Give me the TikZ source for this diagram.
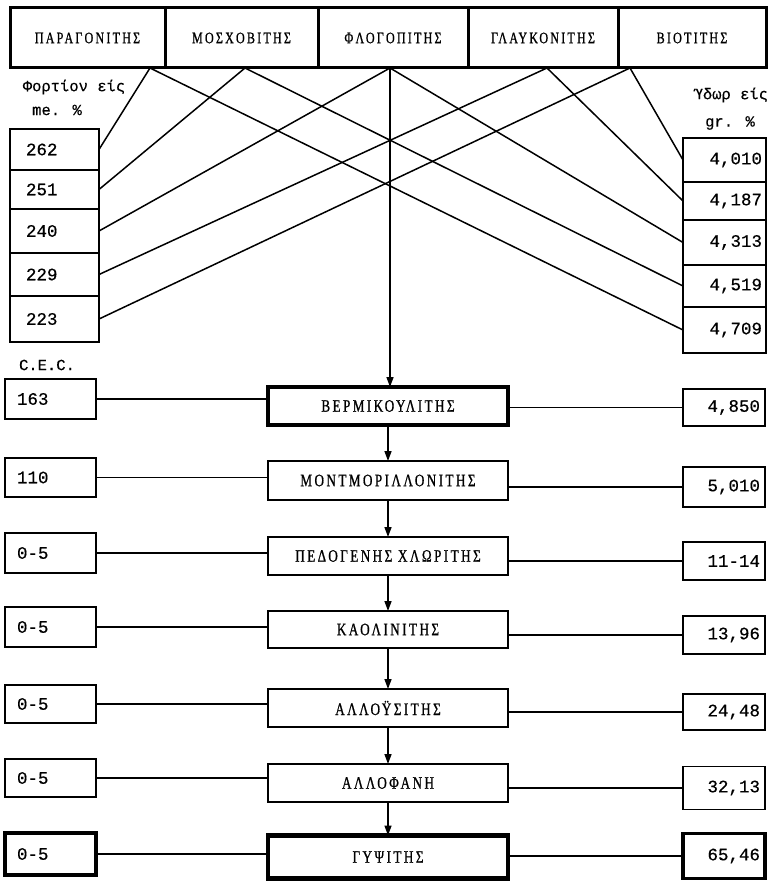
\documentclass[tikz,border=0pt]{standalone}
\usepackage{fontspec}
\setmainfont{Liberation Serif}
\newfontfamily\labfont[FakeStretch=0.75,LetterSpace=14,FakeBold=0.8]{Liberation Serif}
\newfontfamily\tyfont[FakeBold=0.4]{Liberation Mono}
\usetikzlibrary{arrows.meta,calc}
\begin{document}
\begin{tikzpicture}[x=1pt,y=-1pt,
  every node/.style={inner sep=0pt, outer sep=0pt},
  topbox/.style={draw, line width=3pt, minimum height=60pt, font=\labfont\fontsize{16}{16}\selectfont},
  midbox/.style={draw, line width=1.8pt, minimum width=240pt, font=\labfont\fontsize{17.5}{18}\selectfont},
  thickb/.style={line width=4.5pt},
  numbox/.style={draw, line width=1.8pt, font=\tyfont\fontsize{17.5}{17.5}\selectfont},
  lbox/.style={numbox, minimum width=89pt, text width=57pt, align=left},
  rbox/.style={numbox, minimum width=83pt, text width=75pt, align=right},
  llbox/.style={numbox, minimum width=91pt, text width=67pt, align=left},
  rrbox/.style={numbox, minimum width=82pt, text width=72pt, align=right},
  conn/.style={line width=1.5pt},
  arr/.style={line width=1.5pt, -{Triangle[length=10pt,width=7pt]}},
  hdr/.style={font=\tyfont\fontsize{15.5}{16}\selectfont}
]
\fill[white] (0,0) rectangle (769,885);
\useasboundingbox (0,0) rectangle (769,885);

% top row
\node[topbox, minimum width=155pt] (par) at (87.5,38) {ΠΑΡΑΓΟΝΙΤΗΣ};
\node[topbox, minimum width=153pt] (mos) at (241.5,38) {ΜΟΣΧΟΒΙΤΗΣ};
\node[topbox, minimum width=150pt] (flo) at (393,38) {ΦΛΟΓΟΠΙΤΗΣ};
\node[topbox, minimum width=150pt] (gla) at (543,38) {ΓΛΑΥΚΟΝΙΤΗΣ};
\node[topbox, minimum width=148pt] (bio) at (692,38) {ΒΙΟΤΙΤΗΣ};

\coordinate (parB) at (150,68);
\coordinate (mosB) at (245,68);
\coordinate (floB) at (390,68);
\coordinate (glaB) at (547,68);
\coordinate (bioB) at (630,68);

% headers
\node[hdr] (hl1) at (74,87) {Φορτίον είς};
\node[hdr] (hl2) at (57,110) {me. \%};
\node[hdr, anchor=east] (hr1) at (768,95) {Ύδωρ είς};
\node[hdr] (hr2) at (730,123) {gr. \%};
\node[hdr] (cec) at (47,365) {C.E.C.};

% left column
\node[lbox, minimum height=41pt] (l262) at (54.5,149.5) {262};
\node[lbox, minimum height=39pt] (l251) at (54.5,189.5) {251};
\node[lbox, minimum height=44pt] (l240) at (54.5,231) {240};
\node[lbox, minimum height=43pt] (l229) at (54.5,274.5) {229};
\node[lbox, minimum height=46pt] (l223) at (54.5,319) {223};

% right column
\node[rbox, minimum height=44pt] (r4010) at (724.5,160) {4,010};
\node[rbox, minimum height=38pt] (r4187) at (724.5,201) {4,187};
\node[rbox, minimum height=45pt] (r4313) at (724.5,242.5) {4,313};
\node[rbox, minimum height=42pt] (r4519) at (724.5,286) {4,519};
\node[rbox, minimum height=46pt] (r4709) at (724.5,330) {4,709};

% diagonal connectors
\draw[conn] (parB) -- (l262.east);
\draw[conn] (parB) -- (r4709.west);
\draw[conn] (mosB) -- (l251.east);
\draw[conn] (mosB) -- (r4519.west);
\draw[conn] (floB) -- (l240.east);
\draw[conn] (floB) -- (r4313.west);
\draw[conn] (glaB) -- (l229.east);
\draw[conn] (glaB) -- (r4187.west);
\draw[conn] (bioB) -- (l223.east);
\draw[conn] (bioB) -- (r4010.west);

% centre column
\node[midbox, thickb, minimum height=38pt] (ver) at (388,406) {ΒΕΡΜΙΚΟΥΛΙΤΗΣ};
\node[midbox, minimum height=39pt] (mon) at (388,480.5) {ΜΟΝΤΜΟΡΙΛΛΟΝΙΤΗΣ};
\node[midbox, minimum height=38pt] (ped) at (388,556) {ΠΕΔΟΓΕΝΗΣ ΧΛΩΡΙΤΗΣ};
\node[midbox, minimum height=37pt] (kao) at (388,629.5) {ΚΑΟΛΙΝΙΤΗΣ};
\node[midbox, minimum height=38pt] (alh) at (388,708) {ΑΛΛΟΫΣΙΤΗΣ};
\node[midbox, minimum height=38pt] (alf) at (388,783) {ΑΛΛΟΦΑΝΗ};
\node[midbox, thickb, minimum height=43pt] (gyp) at (388,857) {ΓΥΨΙΤΗΣ};

% lower left
\node[llbox, line width=2.3pt, minimum height=40pt] (c163) at (50.5,399) {163};
\node[llbox, line width=2.3pt, minimum height=39pt] (c110) at (50.5,477.5) {110};
\node[llbox, minimum height=40pt] (c5a) at (50.5,553) {0-5};
\node[llbox, minimum height=40pt] (c5b) at (50.5,627) {0-5};
\node[llbox, minimum height=38pt] (c5c) at (50.5,704) {0-5};
\node[llbox, minimum height=38pt] (c5d) at (50.5,778) {0-5};
\node[llbox, line width=3.8pt, minimum height=42pt] (c5e) at (50.5,854) {0-5};

% lower right
\node[rrbox, line width=2.8pt, minimum height=37pt] (w4850) at (724,407.5) {4,850};
\node[rrbox, minimum height=40pt] (w5010) at (724,487) {5,010};
\node[rrbox, minimum height=38pt] (w1114) at (724,561) {11-14};
\node[rrbox, minimum height=38pt] (w1396) at (724,635) {13,96};
\node[rrbox, minimum height=36pt] (w2448) at (724,712) {24,48};
\node[rrbox, minimum height=43pt] (w3213) at (724,788) {32,13};
\node[rrbox, line width=3.8pt, minimum height=45pt] (w6546) at (724,856) {65,46};

% horizontal connectors
\foreach \a/\b/\c in {c163/ver/w4850, c110/mon/w5010, c5a/ped/w1114, c5b/kao/w1396, c5c/alh/w2448, c5d/alf/w3213, c5e/gyp/w6546}{
  \draw[conn] (\a.east) -- (\a.east -| \b.west);
  \draw[conn] (\c.west -| \b.east) -- (\c.west);
}

% vertical arrows
\draw[arr] (floB) -- (floB |- ver.north);
\draw[arr] (ver.south) -- (mon.north);
\draw[arr] (mon.south) -- (ped.north);
\draw[arr] (ped.south) -- (kao.north);
\draw[arr] (kao.south) -- (alh.north);
\draw[arr] (alh.south) -- (alf.north);
\draw[arr] (alf.south) -- (gyp.north);
\end{tikzpicture}
\end{document}
